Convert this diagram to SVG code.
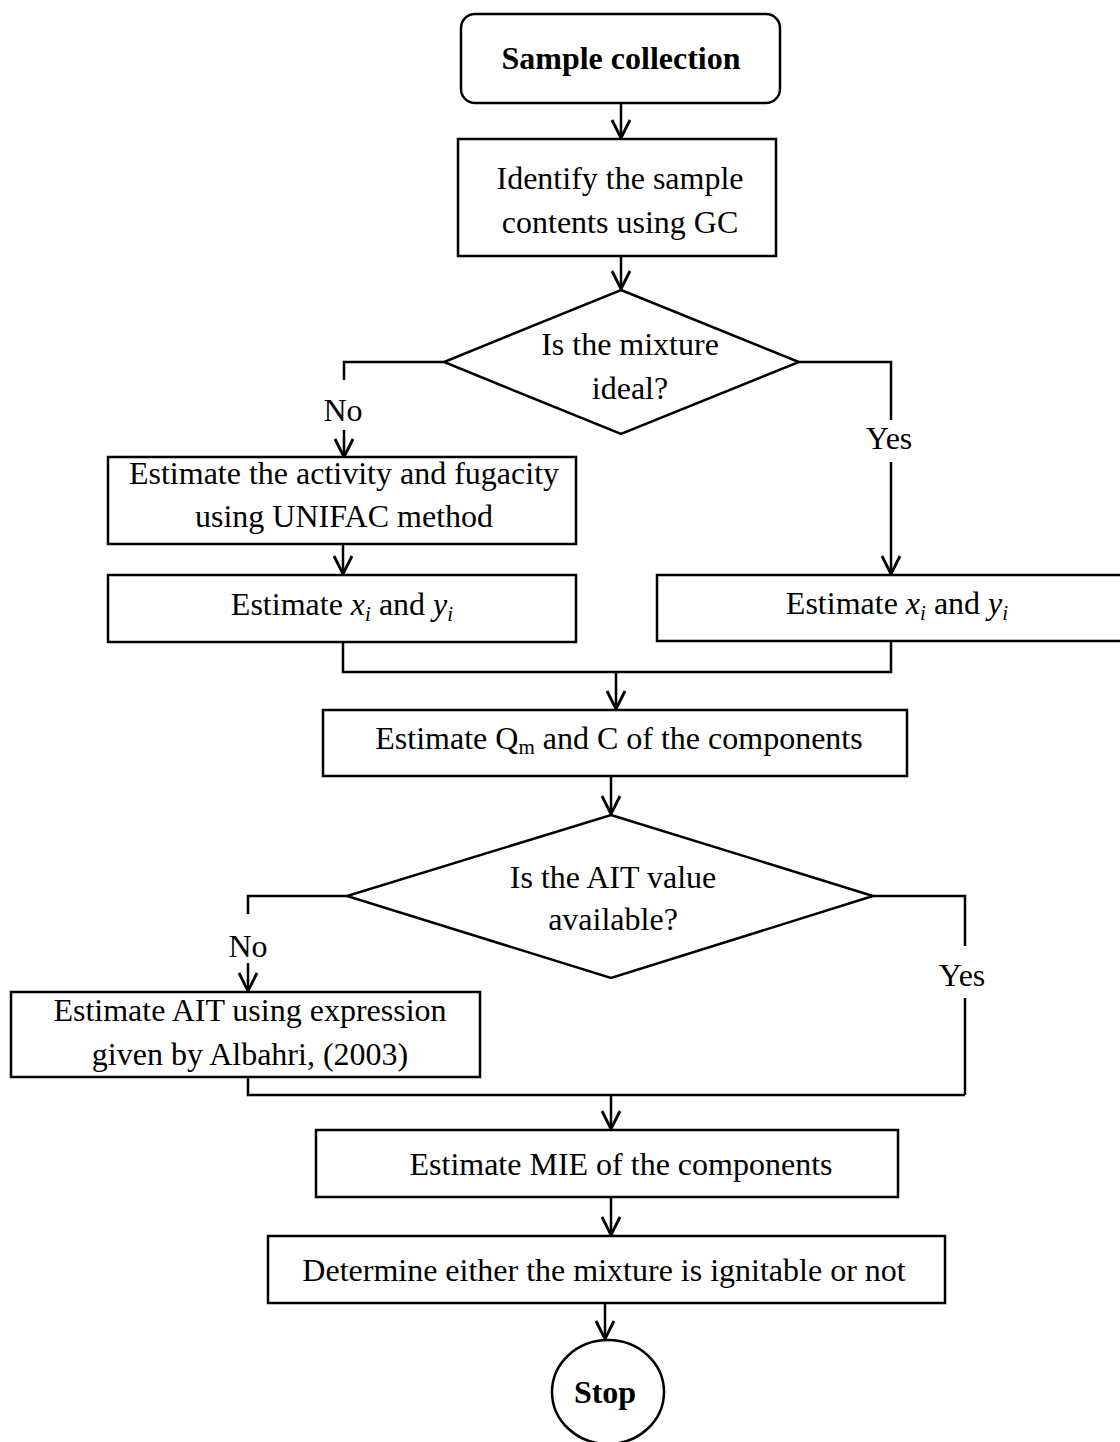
<svg xmlns="http://www.w3.org/2000/svg" width="1120" height="1442" viewBox="0 0 1120 1442">
<style>
.box{fill:#fff;stroke:#000;stroke-width:2.5}
.ln{fill:none;stroke:#000;stroke-width:2.5}
.t{font-family:"Liberation Serif","Times New Roman",serif;font-size:32px;fill:#000;text-anchor:middle}
.b{font-weight:bold;font-size:32px}
.i{font-style:italic}
</style>
<defs>
<marker id="ar" markerWidth="24" markerHeight="24" refX="21" refY="12" orient="auto" markerUnits="userSpaceOnUse" viewBox="0 0 24 24">
<path d="M3,3 L21,12 L3,21" fill="none" stroke="#000" stroke-width="2.8"/>
</marker>
</defs>
<rect width="1120" height="1442" fill="#fff"/>
<g id="connectors">
<path class="ln" d="M621,103 V138" marker-end="url(#ar)"/>
<path class="ln" d="M621,256 V289" marker-end="url(#ar)"/>
<path class="ln" d="M444,362 H344 V380"/>
<path class="ln" d="M344,430 V457" marker-end="url(#ar)"/>
<path class="ln" d="M799,362 H891 V420"/>
<path class="ln" d="M891,462 V574" marker-end="url(#ar)"/>
<path class="ln" d="M343,544 V574" marker-end="url(#ar)"/>
<path class="ln" d="M343,642 V672 H891 V641"/>
<path class="ln" d="M616,672 V709" marker-end="url(#ar)"/>
<path class="ln" d="M611,776 V814" marker-end="url(#ar)"/>
<path class="ln" d="M347,896 H248 V914"/>
<path class="ln" d="M248,963 V991" marker-end="url(#ar)"/>
<path class="ln" d="M873,896 H965 V946"/>
<path class="ln" d="M965,998 V1095"/>
<path class="ln" d="M248,1077 V1095 H965"/>
<path class="ln" d="M611,1095 V1129" marker-end="url(#ar)"/>
<path class="ln" d="M611,1197 V1235" marker-end="url(#ar)"/>
<path class="ln" d="M605,1303 V1339" marker-end="url(#ar)"/>
<text class="t" x="343" y="421">No</text>
<text class="t" x="889" y="449">Yes</text>
<text class="t" x="248" y="957">No</text>
<text class="t" x="962" y="986">Yes</text>
</g>
<g id="start">
<rect class="box" x="461" y="14" width="319" height="89" rx="14"/>
<text class="t b" x="621" y="69">Sample collection</text>
</g>
<g id="identify">
<rect class="box" x="458" y="139" width="318" height="117"/>
<text class="t" x="620" y="189">Identify the sample</text>
<text class="t" x="620" y="233">contents using GC</text>
</g>
<g id="ideal">
<polygon class="box" points="621,290 799,362 621,434 444,362"/>
<text class="t" x="630" y="355">Is the mixture</text>
<text class="t" x="630" y="399">ideal?</text>
</g>
<g id="unifac">
<rect class="box" x="108" y="457" width="468" height="87"/>
<text class="t" x="344" y="484">Estimate the activity and fugacity</text>
<text class="t" x="344" y="527">using UNIFAC method</text>
</g>
<g id="xy-left">
<rect class="box" x="108" y="575" width="468" height="67"/>
<text class="t" x="342" y="615">Estimate <tspan class="i">x<tspan font-size="21" dy="6">i</tspan></tspan><tspan dy="-6"> and </tspan><tspan class="i">y<tspan font-size="21" dy="6">i</tspan></tspan></text>
</g>
<g id="xy-right">
<rect class="box" x="657" y="575" width="470" height="66"/>
<text class="t" x="897" y="614">Estimate <tspan class="i">x<tspan font-size="21" dy="6">i</tspan></tspan><tspan dy="-6"> and </tspan><tspan class="i">y<tspan font-size="21" dy="6">i</tspan></tspan></text>
</g>
<g id="qm">
<rect class="box" x="323" y="710" width="584" height="66"/>
<text class="t" x="619" y="749">Estimate Q<tspan font-size="21" dy="5">m</tspan><tspan dy="-5"> and C of the components</tspan></text>
</g>
<g id="ait">
<polygon class="box" points="611,815 873,896 611,978 347,896"/>
<text class="t" x="613" y="888">Is the AIT value</text>
<text class="t" x="613" y="930">available?</text>
</g>
<g id="albahri">
<rect class="box" x="11" y="992" width="469" height="85"/>
<text class="t" x="250" y="1021">Estimate AIT using expression</text>
<text class="t" x="250" y="1065">given by Albahri, (2003)</text>
</g>
<g id="mie">
<rect class="box" x="316" y="1130" width="582" height="67"/>
<text class="t" x="621" y="1175">Estimate MIE of the components</text>
</g>
<g id="determine">
<rect class="box" x="268" y="1236" width="677" height="67"/>
<text class="t" x="604" y="1281">Determine either the mixture is ignitable or not</text>
</g>
<g id="stop">
<ellipse class="box" cx="608" cy="1392" rx="56" ry="52"/>
<text class="t b" x="605" y="1403">Stop</text>
</g>
</svg>
